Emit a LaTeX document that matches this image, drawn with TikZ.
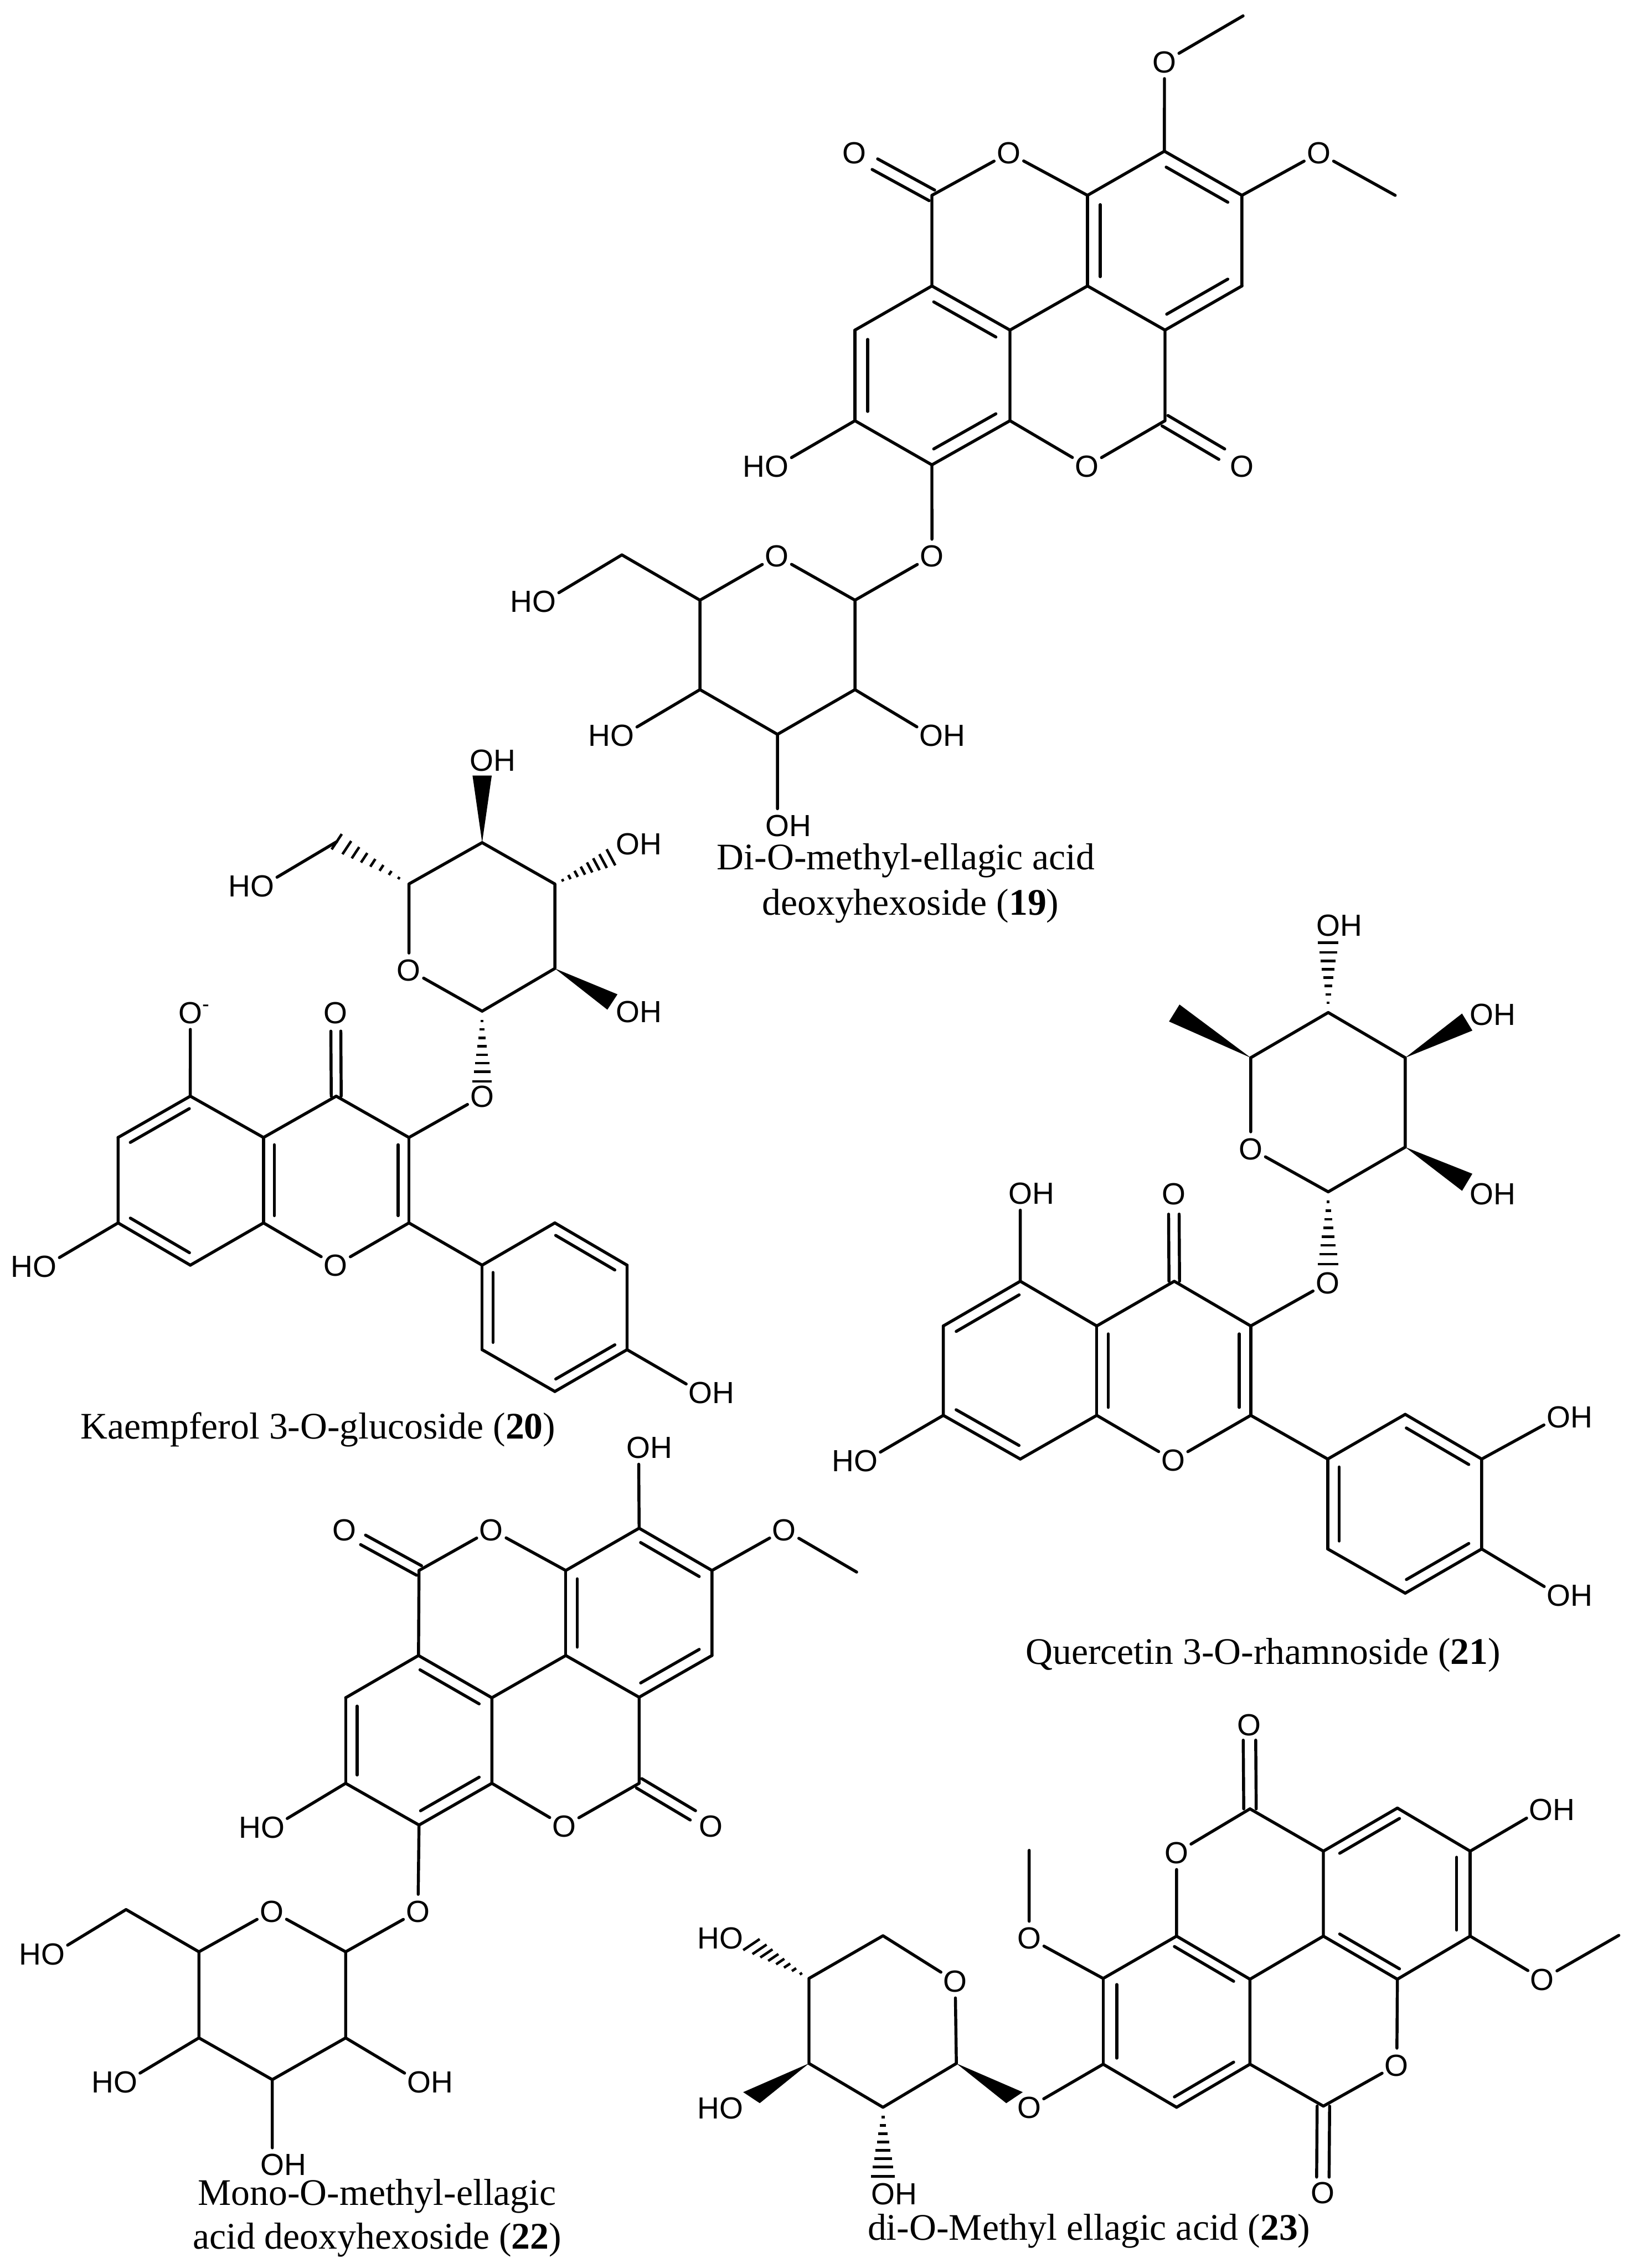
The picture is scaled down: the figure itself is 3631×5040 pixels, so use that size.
\documentclass[tikz,border=0pt]{standalone}
\usepackage{fontspec}
\setmainfont{Liberation Serif}
\newfontfamily\atomfont{Liberation Sans}
\usetikzlibrary{calc}
\tikzset{
  bond/.style={line width=1.9pt,line cap=round,line join=round,black},
  hashline/.style={line width=1.6pt,line cap=butt,black},
  atom/.style={circle,inner sep=0.2pt,text height=13.8pt,text depth=0pt,font=\atomfont\fontsize{19.3}{21}\selectfont},
  caption/.style={anchor=base,inner sep=0pt,font=\fontsize{23.7}{26}\selectfont}
}
\newcommand{\dbl}[2]{%
  \draw[bond] (#1) -- (#2);
  \draw[bond] ($(#1)!4.5pt!(#2)!6.3pt!-90:(#2)$) -- ($(#2)!4.5pt!(#1)!6.3pt!90:(#1)$);}
\newcommand{\dco}[2]{%
  \draw[bond] ($(#1)!2.9pt!90:(#2.center)$) -- ($(#2.center)!11.5pt!(#1)!2.9pt!-90:(#1)$);
  \draw[bond] ($(#1)!2.9pt!-90:(#2.center)$) -- ($(#2.center)!11.5pt!(#1)!2.9pt!90:(#1)$);}
\newcommand{\wdg}[2]{%
  \fill[black] (#1) -- ($(#2)!5.6pt!90:(#1)$) -- ($(#2)!5.6pt!-90:(#1)$) -- cycle;}
\newcommand{\hsh}[2]{%
  \foreach \t in {0.14,0.26,0.38,0.5,0.62,0.74,0.86,1}{
    \draw[hashline] ($(#1)!\t!(#2)!\t*5.6pt!90:(#1)$) -- ($(#1)!\t!(#2)!\t*5.6pt!-90:(#1)$);
  }}
\begin{document}
\begin{tikzpicture}[x=0.01cm,y=-0.01cm]
\path[fill=white,use as bounding box] (0,0) rectangle (3631,5040);

% ---------- 19
\begin{scope}[shift={(1100,0)},xscale=1.2755,yscale=1.3074]
\foreach \n/\x/\y in {me1/1303/27,c1/1166/257,c2/1301/332,me2/1568/332,c3/1301/486,c4/1167/561,c5/1032/486,c6/1032/332,c7/761/332,c8/761/486,c9/897/561,c10/627/561,c11/627/715,c12/761/790,c13/897/715,c14/1167/715,s1/627/1020,s5/357/1020,s6/221/943,s4/357/1172,s3/492/1248,s2/627/1172}
  {\coordinate (a\n) at (\x,\y);}
\node[atom] (aO1) at (1166,105) {O};
\node[atom] (aO2) at (1435,260) {O};
\node[atom] (aO3) at (895,260) {O};
\node[atom] (aO4) at (626,260) {O};
\node[atom] (aO5) at (1031,792) {O};
\node[atom] (aO6) at (1301,792) {O};
\node[atom] (aO7) at (761,945) {O};
\node[atom] (aO8) at (491,945) {O};
\node[atom] (aH1) at (491,792) {\llap{H}O};
\node[atom] (aH2) at (86,1022) {\llap{H}O};
\node[atom] (aH3) at (760,1250) {O\rlap{H}};
\node[atom] (aH4) at (222,1250) {\llap{H}O};
\node[atom] (aH5) at (492,1403) {O\rlap{H}};
\draw[bond] (ame1)--(aO1) (aO1)--(ac1) (ac2)--(aO2) (aO2)--(ame2) (ac2)--(ac3) (ac4)--(ac5) (ac6)--(ac1)
  (ac6)--(aO3) (aO3)--(ac7) (ac7)--(ac8) (ac9)--(ac5) (ac9)--(ac13) (ac8)--(ac10) (ac11)--(ac12)
  (ac13)--(aO5) (aO5)--(ac14) (ac14)--(ac4) (ac11)--(aH1) (ac12)--(aO7) (aO7)--(as1) (as1)--(aO8) (aO8)--(as5)
  (as5)--(as6) (as6)--(aH2) (as5)--(as4) (as4)--(as3) (as3)--(as2) (as2)--(as1) (as2)--(aH3) (as4)--(aH4) (as3)--(aH5);
\dbl{ac1}{ac2}\dbl{ac3}{ac4}\dbl{ac5}{ac6}
\dbl{ac8}{ac9}\dbl{ac13}{ac12}\dbl{ac11}{ac10}
\dco{ac7}{aO4}\dco{ac14}{aO6}
\node[caption] (acap1) at (716,1478) {Di-O-methyl-ellagic acid};
\node[caption] (acap2) at (724,1555) {deoxyhexoside (\textbf{19})};
\end{scope}

% ---------- 20
\begin{scope}[shift={(0,1650)},xscale=1.0842,yscale=1.0204]
\foreach \n/\x/\y in {s1/988/585,s2/1137/492,s3/1137/308,s4/988/218,s5/838/308,s6/690/216,w1/988/72,w2/1255/565,h1/1252/250,h2/988/738,c3/838/860,c2/838/1046,c8a/540/1046,c4a/540/860,c4/689/770,c5/390/770,c6/242/860,c7/242/1046,c8/390/1138,p1/988/1138,p2/1137/1046,p3/1285/1138,p4/1285/1322,p5/1137/1413,p6/988/1322}
  {\coordinate (b\n) at (\x,\y);}
\node[atom] (bO1) at (838,495) {O};
\node[atom] (bO2) at (988,770) {O};
\node[atom] (bO3) at (688,588) {O};
\node[atom] (bO4) at (390,588) {O\rlap{\textsuperscript{-}}};
\node[atom] (bO5) at (688,1138) {O};
\node[atom] (bH1) at (538,312) {\llap{H}O};
\node[atom] (bH2) at (987,38) {O\rlap{H}};
\node[atom] (bH3) at (1287,221) {O\rlap{H}};
\node[atom] (bH4) at (1287,586) {O\rlap{H}};
\node[atom] (bH5) at (92,1140) {\llap{H}O};
\node[atom] (bH6) at (1436,1415) {O\rlap{H}};
\draw[bond] (bs1)--(bs2) (bs2)--(bs3) (bs3)--(bs4) (bs4)--(bs5) (bs5)--(bO1) (bO1)--(bs1) (bs6)--(bH1)
  (bc2)--(bO5) (bO5)--(bc8a) (bc4a)--(bc4) (bc4)--(bc3) (bc3)--(bO2) (bc5)--(bc4a) (bc5)--(bO4) (bc6)--(bc7) (bc8)--(bc8a)
  (bc7)--(bH5) (bc2)--(bp1) (bp2)--(bp1) (bp3)--(bp4) (bp5)--(bp6) (bp4)--(bH6);
\dbl{bc3}{bc2}\dbl{bc8a}{bc4a}\dbl{bc6}{bc5}\dbl{bc8}{bc7}
\dbl{bp2}{bp3}\dbl{bp4}{bp5}\dbl{bp6}{bp1}
\dco{bc4}{bO3}
\wdg{bs4}{bw1}\wdg{bs2}{bw2}
\hsh{bs5}{bs6}\hsh{bs3}{bh1}\hsh{bs1}{bh2}
\node[caption] (bcap) at (652,1516) {Kaempferol 3-O-glucoside (\textbf{20})};
\end{scope}

% ---------- 21
\begin{scope}[shift={(1800,2000)},xscale=1.148,yscale=1.116]
\foreach \n/\x/\y in {s1/1003/581,s2/1152/492,s3/1152/314,s4/1003/224,s5/853/314,me/705/225,w2/1272/243,w3/1272/562,h1/1003/85,h2/1003/725,c3/853/848,c2/853/1026,c8a/555/1026,c4a/555/848,c4/705/759,c5/407/759,c6/258/848,c7/258/1026,c8/407/1113,p1/1002/1113,p2/1152/1024,p3/1300/1113,p4/1300/1292,p5/1152/1380,p6/1002/1292}
  {\coordinate (c\n) at (\x,\y);}
\node[atom] (cO1) at (853,495) {O};
\node[atom] (cO2) at (1002,762) {O};
\node[atom] (cO3) at (704,585) {O};
\node[atom] (cO4) at (703,1115) {O};
\node[atom] (cH1) at (1003,50) {O\rlap{H}};
\node[atom] (cH2) at (1300,228) {O\rlap{H}};
\node[atom] (cH3) at (1300,585) {O\rlap{H}};
\node[atom] (cH4) at (407,584) {O\rlap{H}};
\node[atom] (cH5) at (108,1116) {\llap{H}O};
\node[atom] (cH6) at (1449,1029) {O\rlap{H}};
\node[atom] (cH7) at (1449,1384) {O\rlap{H}};
\draw[bond] (cs1)--(cs2) (cs2)--(cs3) (cs3)--(cs4) (cs4)--(cs5) (cs5)--(cO1) (cO1)--(cs1)
  (cc2)--(cO4) (cO4)--(cc8a) (cc4a)--(cc4) (cc4)--(cc3) (cc3)--(cO2) (cc5)--(cc4a) (cc5)--(cH4) (cc6)--(cc7) (cc8)--(cc8a)
  (cc7)--(cH5) (cc2)--(cp1) (cp2)--(cp1) (cp3)--(cp4) (cp5)--(cp6) (cp3)--(cH6) (cp4)--(cH7);
\dbl{cc3}{cc2}\dbl{cc8a}{cc4a}\dbl{cc6}{cc5}\dbl{cc8}{cc7}
\dbl{cp2}{cp3}\dbl{cp4}{cp5}\dbl{cp6}{cp1}
\dco{cc4}{cO3}
\wdg{cs5}{cme}\wdg{cs3}{cw2}\wdg{cs2}{cw3}
\hsh{cs4}{ch1}\hsh{cs1}{ch2}
\node[caption] (ccap) at (877,1522) {Quercetin 3-O-rhamnoside (\textbf{21})};
\end{scope}

% ---------- 22
\begin{scope}[shift={(0,3200)},xscale=1.148,yscale=1.1735]
\foreach \n/\x/\y in {c1/1237/167,c2/1378/247,me/1658/250,c3/1378/408,c4/1237/487,c5/1095/408,c6/1095/247,c7/811/247,c8/810/408,c9/952/488,c10/669/488,c11/669/650,c12/811/729,c13/952/650,c14/1237/650,s1/669/969,s5/385/969,s6/244/889,s4/385/1132,s3/527/1211,s2/669/1132}
  {\coordinate (d\n) at (\x,\y);}
\node[atom] (dO1) at (1518,170) {O};
\node[atom] (dO3) at (951,170) {O};
\node[atom] (dO4) at (667,170) {O};
\node[atom] (dO5) at (1092,731) {O};
\node[atom] (dO6) at (1376,731) {O};
\node[atom] (dO7) at (809,892) {O};
\node[atom] (dO8) at (526,892) {O};
\node[atom] (dH0) at (1236,14) {O\rlap{H}};
\node[atom] (dH1) at (528,733) {\llap{H}O};
\node[atom] (dH2) at (103,973) {\llap{H}O};
\node[atom] (dH3) at (811,1215) {O\rlap{H}};
\node[atom] (dH4) at (243,1215) {\llap{H}O};
\node[atom] (dH5) at (527,1372) {O\rlap{H}};
\draw[bond] (dH0)--(dc1) (dc2)--(dO1) (dO1)--(dme) (dc2)--(dc3) (dc4)--(dc5) (dc6)--(dc1)
  (dc6)--(dO3) (dO3)--(dc7) (dc7)--(dc8) (dc9)--(dc5) (dc9)--(dc13) (dc8)--(dc10) (dc11)--(dc12)
  (dc13)--(dO5) (dO5)--(dc14) (dc14)--(dc4) (dc11)--(dH1) (dc12)--(dO7) (dO7)--(ds1) (ds1)--(dO8) (dO8)--(ds5)
  (ds5)--(ds6) (ds6)--(dH2) (ds5)--(ds4) (ds4)--(ds3) (ds3)--(ds2) (ds2)--(ds1) (ds2)--(dH3) (ds4)--(dH4) (ds3)--(dH5);
\dbl{dc1}{dc2}\dbl{dc3}{dc4}\dbl{dc5}{dc6}
\dbl{dc8}{dc9}\dbl{dc13}{dc12}\dbl{dc11}{dc10}
\dco{dc7}{dO4}\dco{dc14}{dO6}
\node[caption] (dcap1) at (730,1449) {Mono-O-methyl-ellagic};
\node[caption] (dcap2) at (730,1532) {acid deoxyhexoside (\textbf{22})};
\end{scope}

% ---------- 23
\begin{scope}[shift={(1500,3700)},xscale=1.359,yscale=0.8546]
\foreach \n/\x/\y in {c1/940/374,c2/1060/484,c3/1181/372,c4/1300/484,c5/1300/705,me1/1543/703,c6/1181/817,c7/1060/705,c8/940/817,c9/820/705,c10/1060/1147,c11/940/1038,c12/820/1150,c13/700/1038,c14/700/815,me2/579/482,s1/460/1036,s2/340/1150,s3/219/1036,s4/219/815,s5/340/704,w1/555/1125,w2/125/1125,h1/125/727,h2/340/1330}
  {\coordinate (e\n) at (\x,\y);}
\node[atom] (eO1) at (939,155) {O};
\node[atom] (eO2) at (820,488) {O};
\node[atom] (eO3) at (1418,817) {O};
\node[atom] (eO4) at (1180,1040) {O};
\node[atom] (eO5) at (1059,1372) {O};
\node[atom] (eO6) at (579,710) {O};
\node[atom] (eO7) at (579,1150) {O};
\node[atom] (eO8) at (458,822) {O};
\node[atom] (eH1) at (1416,376) {O\rlap{H}};
\node[atom] (eH2) at (92,710) {\llap{H}O};
\node[atom] (eH3) at (92,1152) {\llap{H}O};
\node[atom] (eH4) at (340,1374) {O\rlap{H}};
\draw[bond] (ec1)--(ec2) (ec1)--(eO2) (eO2)--(ec9) (ec3)--(ec4) (ec4)--(eH1) (ec5)--(ec6) (ec5)--(eO3) (eO3)--(eme1)
  (ec7)--(ec2) (ec7)--(ec8) (ec8)--(ec11) (ec6)--(eO4) (eO4)--(ec10) (ec10)--(ec11) (ec12)--(ec13) (ec14)--(ec9)
  (ec14)--(eO6) (eO6)--(eme2) (ec13)--(eO7) (es1)--(eO8) (eO8)--(es5) (es5)--(es4) (es4)--(es3) (es3)--(es2) (es2)--(es1);
\dbl{ec2}{ec3}\dbl{ec4}{ec5}\dbl{ec6}{ec7}
\dbl{ec9}{ec8}\dbl{ec11}{ec12}\dbl{ec13}{ec14}
\dco{ec1}{eO1}\dco{ec10}{eO5}
\wdg{es1}{ew1}\wdg{es3}{ew2}
\hsh{es4}{eh1}\hsh{es2}{eh2}
\node[caption] (ecap) at (677,1495) {di-O-Methyl ellagic acid (\textbf{23})};
\end{scope}
\end{tikzpicture}
\end{document}
